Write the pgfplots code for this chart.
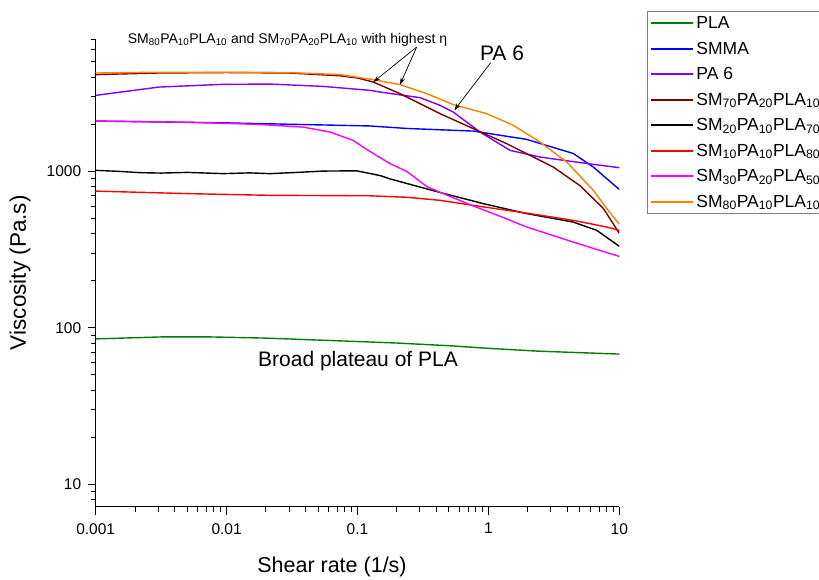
\documentclass[border=0pt]{standalone}
\usepackage{fontspec}
\setmainfont{Liberation Sans}
\usepackage{pgfplots}
\pgfplotsset{compat=1.18}
\usetikzlibrary{arrows.meta}
\definecolor{cPLA}{RGB}{0,128,0}
\definecolor{cSMMA}{RGB}{0,0,255}
\definecolor{cPA}{RGB}{128,0,255}
\definecolor{cSMa}{RGB}{128,0,0}
\definecolor{cSMb}{RGB}{0,0,0}
\definecolor{cSMc}{RGB}{255,0,0}
\definecolor{cSMd}{RGB}{255,0,255}
\definecolor{cSMe}{RGB}{255,128,0}
\newcommand{\sub}[1]{\textsubscript{#1}}
\begin{document}
\begin{tikzpicture}
\begin{axis}[
  at={(95.7pt,72.3pt)}, anchor=south west,
  scale only axis, width=523.6pt, height=467.6pt,
  xmode=log, ymode=log,
  xmin=0.001, xmax=10, ymin=7.2, ymax=7000,
  axis x line*=bottom, axis y line*=left,
  x axis line style={-}, y axis line style={-},
  axis line style={line width=1.2pt},
  tick align=outside,
  major tick length=8pt, minor tick length=5pt,
  every tick/.style={black, line width=1pt},
  xtick={0.001,0.01,0.1,1,10}, xticklabels={0.001,0.01,0.1,1,10},
  minor xtick={0.002,0.003,0.004,0.005,0.006,0.007,0.008,0.009,0.02,0.03,0.04,0.05,0.06,0.07,0.08,0.09,0.2,0.3,0.4,0.5,0.6,0.7,0.8,0.9,2,3,4,5,6,7,8,9},
  ytick={10,100,1000}, yticklabels={10,100,1000},
  minor ytick={8,9,20,30,40,50,60,70,80,90,200,300,400,500,600,700,800,900,2000,3000,4000,5000,6000,7000},
  tick label style={font=\fontsize{15.5}{18}\selectfont},
  xticklabel style={yshift=-5pt},
  yticklabel style={xshift=-3pt},
  xlabel={Shear rate (1/s)}, ylabel={Viscosity (Pa.s)},
  every axis x label/.style={at={(axis description cs:0.4513,-0.1282)}, anchor=center, font=\fontsize{21.5}{24}\selectfont},
  every axis y label/.style={at={(axis description cs:-0.1446,0.5004)}, anchor=center, rotate=90, font=\fontsize{22.5}{25}\selectfont},
  clip mode=individual,
  legend style={at={(axis description cs:1.053,1.06)}, anchor=north west, draw=black!50, line width=0.8pt,
    font=\fontsize{17.5}{20}\selectfont, row sep=7.8pt, inner sep=3pt},
  legend cell align=left,
  legend image code/.code={\draw[#1, line width=2pt] (0pt,0pt) -- (42pt,0pt);},
  every axis plot/.append style={line width=1.4pt, mark=none},
]
\addplot[cPLA] coordinates {(0.001,85) (0.00316,87.5) (0.0076,87.5) (0.02,86) (0.0627,83) (0.2,80) (0.527,76.7) (1.0,74) (2.393,71) (10,68)};
\addlegendentry{PLA}
\addplot[cSMMA] coordinates {(0.001,2096) (0.01,2040) (0.03,2000) (0.125,1950) (0.2376,1880) (0.7671,1809) (1.962,1600) (4.452,1300) (6.33,1065) (10,766)};
\addlegendentry{SMMA}
\addplot[cPA] coordinates {(0.001,3059) (0.00305,3457) (0.0094,3597) (0.0215,3612) (0.0545,3491) (0.1246,3293) (0.1486,3211) (0.3002,2958) (0.4269,2641) (0.5393,2392) (0.8628,1783) (1.463,1362) (2.479,1234) (6.33,1108) (10,1056)};
\addlegendentry{PA 6}
\addplot[cSMa] coordinates {(0.001,4150) (0.003,4250) (0.01,4280) (0.03,4250) (0.0735,4080) (0.1,3950) (0.132,3721) (0.2112,3137) (0.4269,2337) (0.7671,1874) (1.38,1503) (3.131,1065) (5.008,810) (7.546,580) (10,402)};
\addlegendentry{SM\sub{70}PA\sub{20}PLA\sub{10}}
\addplot[cSMb] coordinates {(0.001,1015) (0.0015,1000) (0.00218,981) (0.00316,975) (0.005,985) (0.0094,967) (0.015,978) (0.0215,967) (0.035,985) (0.0545,1004) (0.0986,1008) (0.1486,940) (0.177,895) (0.4269,733) (0.9144,622) (1.962,537) (4.452,474) (6.72,420) (10,332)};
\addlegendentry{SM\sub{20}PA\sub{10}PLA\sub{70}}
\addplot[cSMc] coordinates {(0.001,748) (0.00525,720) (0.0215,703) (0.1246,698) (0.2376,683) (0.4269,653) (0.8628,597) (1.962,541) (4.452,486) (8.01,441) (10,420)};
\addlegendentry{SM\sub{10}PA\sub{10}PLA\sub{80}}
\addplot[cSMd] coordinates {(0.001,2096) (0.005,2060) (0.0171,1997) (0.0383,1919) (0.0617,1783) (0.0924,1578) (0.1176,1380) (0.177,1120) (0.2376,1000) (0.3379,800) (0.4269,735) (0.75,605) (1.2,520) (1.962,441) (4.452,353) (10,286)};
\addlegendentry{SM\sub{30}PA\sub{20}PLA\sub{50}}
\addplot[cSMe] coordinates {(0.001,4250) (0.003,4300) (0.01,4300) (0.03,4280) (0.0735,4150) (0.132,3855) (0.2112,3581) (0.3379,3137) (0.5393,2669) (0.9706,2337) (1.55,1968) (2.479,1539) (3.964,1147) (6.33,756) (8.01,580) (10,459)};
\addlegendentry{SM\sub{80}PA\sub{10}PLA\sub{10}}
% annotations
\node[anchor=base, font=\fontsize{14}{16}\selectfont] at (axis cs:0.0292,6546) {SM\sub{80}PA\sub{10}PLA\sub{10} and SM\sub{70}PA\sub{20}PLA\sub{10} with highest η};
\draw[line width=0.7pt, -{Stealth[length=7pt,width=4.5pt]}] (axis cs:0.2833,6229) -- (axis cs:0.132,3721);
\draw[line width=0.7pt, -{Stealth[length=7pt,width=4.5pt]}] (axis cs:0.2833,6229) -- (axis cs:0.2112,3581);
\node[anchor=base, font=\fontsize{21}{24}\selectfont] at (axis cs:1.27,5121) {PA 6};
\draw[line width=0.7pt, -{Stealth[length=7pt,width=4.5pt]}] (axis cs:1.041,4950) -- (axis cs:0.549,2454);
\node[anchor=base, font=\fontsize{21}{24}\selectfont] at (axis cs:0.1009,56.8) {Broad plateau of PLA};
\end{axis}
\pgfresetboundingbox
\useasboundingbox (0pt,0pt) rectangle (819pt,579pt);
\end{tikzpicture}
\end{document}
